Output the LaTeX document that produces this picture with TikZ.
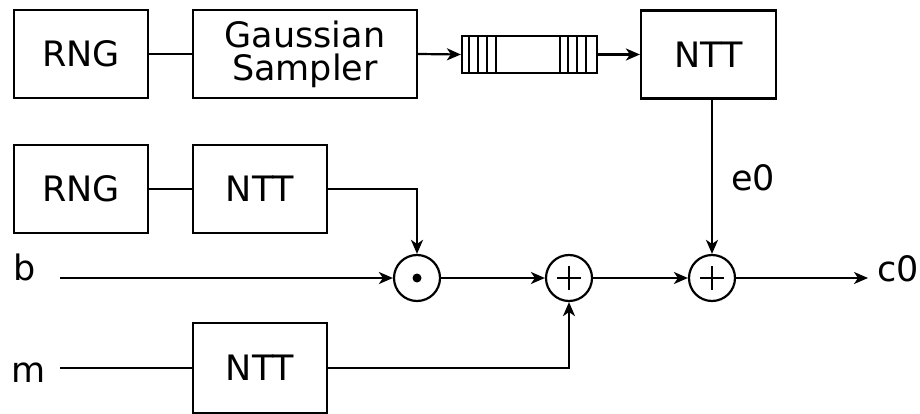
\documentclass[tikz,border=0pt]{standalone}
\usepackage{fontspec}
\setmainfont{DejaVu Sans}
\usetikzlibrary{arrows.meta,calc}
\begin{document}
\begin{tikzpicture}[x=1pt,y=-1pt,
  line width=2.2pt,
  >={Stealth[length=14pt,width=12pt,inset=4pt]},
  blk/.style={draw,minimum width=134pt,minimum height=88pt,inner sep=0pt,font=\fontsize{35}{36}\selectfont,align=center},
  op/.style={draw,circle,minimum size=46pt,inner sep=0pt},
  lbl/.style={inner sep=0pt,anchor=base west,font=\fontsize{35}{36}\selectfont}]
\useasboundingbox (0,0) rectangle (920,414);
% top row
\node[blk] (rng1) at (81,54) {RNG};
\node[blk,minimum width=224pt] (gs) at (305,54) {Gaussian\\[-3pt]Sampler};
\node[draw,minimum width=135pt,minimum height=37pt,inner sep=0pt] (q) at (529.5,54.5) {};
\foreach \d in {8,17,26,35,99,107,116,125}
  \draw ($(q.north west)+(\d,0)$) -- ($(q.south west)+(\d,0)$);
\node[blk,minimum width=135pt] (ntt1) at (708.5,54.5) {NTT};
% second row
\node[blk] (rng2) at (81,189) {RNG};
\node[blk] (ntt2) at (260,189) {NTT};
% operators
\node[op] (dot) at (417,278) {};
\fill (dot.center) circle (4.5pt);
\node[op] (p1) at (569,278) {};
\draw (p1.center) ++(-12,0) -- ++(24,0) (p1.center) ++(0,-12) -- ++(0,24);
\node[op] (p2) at (712,278) {};
\draw (p2.center) ++(-12,0) -- ++(24,0) (p2.center) ++(0,-12) -- ++(0,24);
% bottom
\node[blk,minimum height=90pt] (ntt3) at (260,368) {NTT};
% labels
\node[lbl] (b) at (12,280) {b};
\node[lbl] (m) at (10,382) {m};
\node[lbl] (e0) at (730,190) {e0};
\node[lbl] (c0) at (876,281) {c0};
\coordinate (bs) at (60,278);
\coordinate (ms) at (60,368);
\coordinate (ce) at (868,278);
% connectors
\draw (rng1.east) -- (gs.west);
\draw[->] (gs.east) -- (q.west);
\draw[->] (q.east) -- (ntt1.west);
\draw[->] (ntt1.south -| p2.north) -- (p2.north);
\draw (rng2.east) -- (ntt2.west);
\draw[->] (ntt2.east) -| (dot.north);
\draw[->] (bs) -- (dot.west);
\draw[->] (dot.east) -- (p1.west);
\draw[->] (p1.east) -- (p2.west);
\draw[->] (p2.east) -- (ce);
\draw (ms) -- (ntt3.west);
\draw[->] (ntt3.east) -| (p1.south);
\end{tikzpicture}
\end{document}
